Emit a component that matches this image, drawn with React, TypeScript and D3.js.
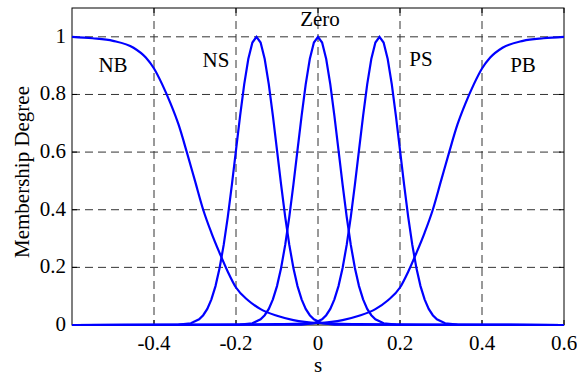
import * as React from 'react'
import * as d3 from 'd3'

// tick values
const xTicks = [-0.4, -0.2, 0, 0.2, 0.4, 0.6]
const yTicks = [0, 0.2, 0.4, 0.6, 0.8, 1]
const xGrid = [-0.4, -0.2, 0, 0.2, 0.4]
const yGrid = [0.2, 0.4, 0.6, 0.8, 1]

// fuzzy sets
const setNames = ['NB', 'NS', 'Zero', 'PS', 'PB']
const bellCenters = [-0.15, 0, 0.15]

// bell shaped sets (NS, Zero, PS): distance from the peak -> degree
const bellOffset = [0, 0.01, 0.02, 0.03, 0.04, 0.05, 0.06, 0.07, 0.08, 0.09, 0.1, 0.11, 0.12, 0.13, 0.14, 0.16, 0.19]
const bellDegree = [1, 0.98, 0.923, 0.835, 0.726, 0.607, 0.487, 0.375, 0.278, 0.198, 0.135, 0.089, 0.056, 0.034, 0.02, 0.006, 0.001]

// shoulder sets (NB, PB): distance from the edge of the universe -> degree
const shoulderDist = [0, 0.05, 0.1, 0.15, 0.18, 0.2, 0.22, 0.24, 0.26, 0.28, 0.3, 0.32, 0.34, 0.36, 0.38, 0.4, 0.43, 0.46, 0.5, 0.54, 0.6, 0.7, 0.85, 1.2]
const shoulderDegree = [1, 0.995, 0.986, 0.962, 0.928, 0.89, 0.835, 0.77, 0.695, 0.6, 0.5, 0.4, 0.32, 0.25, 0.185, 0.13, 0.085, 0.055, 0.032, 0.017, 0.007, 0.003, 0.001, 0]

const labelAt = [[-0.5, 0.878], [-0.249, 0.895], [0.005, 1.037], [0.251, 0.899], [0.5, 0.878]]

const W = 577
const H = 378
const margin = { top: 8, right: 13, bottom: 53, left: 72 }
const font = "'Times New Roman', 'Liberation Serif', serif"

function buildSeries() {
  const nb = shoulderDist.map((d, i) => [-0.6 + d, shoulderDegree[i]])
  const pb = shoulderDist.map((d, i) => [0.6 - d, shoulderDegree[i]]).reverse()
  const bells = bellCenters.map(c => {
    const left = bellOffset.slice().reverse().map((o, i) => [c - o, bellDegree[bellOffset.length - 1 - i]])
    const right = bellOffset.slice(1).map((o, i) => [c + o, bellDegree[i + 1]])
    return [[-0.6, 0], ...left, ...right, [0.6, 0]]
  })
  return [nb, ...bells, pb]
}

export default function App() {
  const ref = React.useRef<SVGSVGElement>(null)

  React.useEffect(() => {
    const svg = d3.select(ref.current)
    svg.selectAll('*').remove()

    const x = d3.scaleLinear().domain([-0.6, 0.6]).range([margin.left, W - margin.right])
    const y = d3.scaleLinear().domain([0, 1.1]).range([H - margin.bottom, margin.top])
    const [x0, x1] = x.range()
    const [y0, y1] = y.range()

    svg.append('rect').attr('width', W).attr('height', H).attr('fill', '#fff')

    // grid
    const grid = svg.append('g')
      .attr('stroke', '#333')
      .attr('stroke-width', 1)
      .attr('stroke-dasharray', '8,5')
    grid.selectAll('.vx').data(xGrid).enter().append('line')
      .attr('x1', d => x(d)).attr('x2', d => x(d))
      .attr('y1', y1).attr('y2', y0)
    grid.selectAll('.hy').data(yGrid).enter().append('line')
      .attr('x1', x0).attr('x2', x1)
      .attr('y1', d => y(d)).attr('y2', d => y(d))

    // box + inward ticks
    const axes = svg.append('g').attr('stroke', '#000').attr('fill', 'none')
    axes.append('rect')
      .attr('x', x0).attr('y', y1)
      .attr('width', x1 - x0).attr('height', y0 - y1)
    const tk = 5
    xTicks.forEach(t => {
      axes.append('line').attr('x1', x(t)).attr('x2', x(t)).attr('y1', y0).attr('y2', y0 - tk)
      axes.append('line').attr('x1', x(t)).attr('x2', x(t)).attr('y1', y1).attr('y2', y1 + tk)
    })
    yTicks.forEach(t => {
      axes.append('line').attr('x1', x0).attr('x2', x0 + tk).attr('y1', y(t)).attr('y2', y(t))
      axes.append('line').attr('x1', x1).attr('x2', x1 - tk).attr('y1', y(t)).attr('y2', y(t))
    })

    // membership curves
    const series = buildSeries()
    const line = d3.line<number[]>().x(d => x(d[0])).y(d => y(d[1]))
    svg.append('g').selectAll('path').data(series).enter().append('path')
      .attr('d', (d, i) => line.curve(i === 0 || i === 4 ? d3.curveMonotoneX : d3.curveLinear)(d))
      .attr('fill', 'none')
      .attr('stroke', '#0000ff')
      .attr('stroke-width', 2.2)

    // tick labels
    const txt = svg.append('g').attr('font-family', font).attr('font-size', 21).attr('fill', '#000')
    txt.selectAll('.xl').data(xTicks).enter().append('text')
      .attr('x', d => x(d)).attr('y', y0 + 25)
      .attr('text-anchor', 'middle')
      .text(d => String(d))
    txt.selectAll('.yl').data(yTicks).enter().append('text')
      .attr('x', x0 - 6).attr('y', d => y(d) + 6)
      .attr('text-anchor', 'end')
      .text(d => String(d))

    // set names
    txt.selectAll('.nm').data(setNames).enter().append('text')
      .attr('x', (d, i) => x(labelAt[i][0]))
      .attr('y', (d, i) => y(labelAt[i][1]))
      .attr('text-anchor', 'middle')
      .text(d => d)

    // axis titles
    txt.append('text')
      .attr('x', x(0)).attr('y', 372)
      .attr('text-anchor', 'middle')
      .text('s')
    txt.append('text')
      .attr('transform', `translate(29, 172) rotate(-90)`)
      .attr('text-anchor', 'middle')
      .text('Membership Degree')
  }, [])

  return (
    <svg ref={ref} width={W} height={H} style={{ position: 'absolute', left: 0, top: 0 }} />
  )
}
